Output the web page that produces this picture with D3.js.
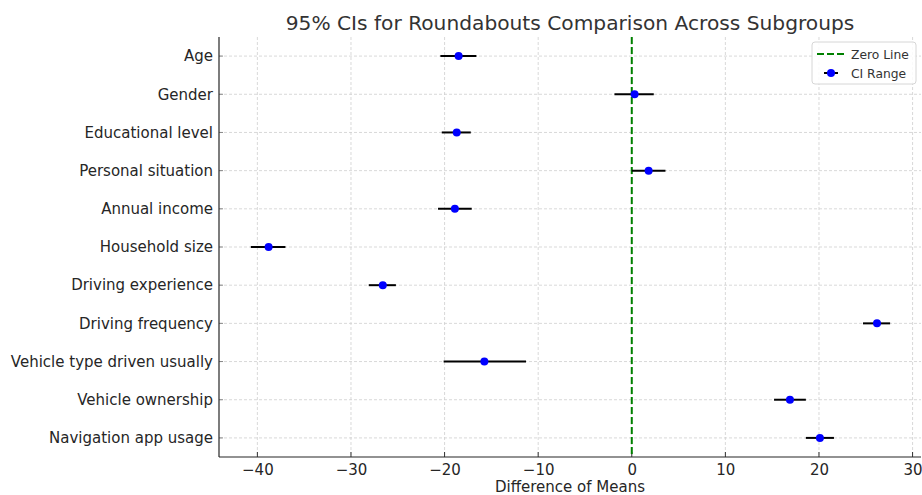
<!DOCTYPE html>
<html><head><meta charset="utf-8">
<script src="https://cdn.jsdelivr.net/npm/d3@7"></script>
<style>body{margin:0;background:#fff}svg{display:block;font-family:"DejaVu Sans",sans-serif}</style>
</head><body><svg id="c" width="922" height="495"></svg>
<script>
const categories = ["Age","Gender","Educational level","Personal situation","Annual income","Household size","Driving experience","Driving frequency","Vehicle type driven usually","Vehicle ownership","Navigation app usage"];
const means = [-18.5, 0.3, -18.7, 1.8, -18.9, -38.8, -26.6, 26.2, -15.75, 16.9, 20.1];
const lower = [-20.45, -1.85, -20.3, 0.0, -20.7, -40.7, -28.1, 24.7, -20.1, 15.2, 18.6];
const upper = [-16.6, 2.35, -17.2, 3.6, -17.1, -37.0, -25.2, 27.6, -11.3, 18.6, 21.6];
const xTicks = [-40, -30, -20, -10, 0, 10, 20, 30];

const svg = d3.select("#c");
const L = 219, R = 921, T = 37, B = 457;
const x = d3.scaleLinear().domain([-44.1, 30.9]).range([L, R]);
const y = d3.scalePoint().domain(categories).range([T, B]).padding(0.5);

// grid
svg.append("g").selectAll("line").data(xTicks).join("line")
  .attr("x1", d => x(d)).attr("x2", d => x(d)).attr("y1", T).attr("y2", B)
  .attr("stroke", "#cfcfcf").attr("stroke-width", 0.8).attr("stroke-dasharray", "3,2");
svg.append("g").selectAll("line").data(categories).join("line")
  .attr("x1", L).attr("x2", R).attr("y1", d => y(d)).attr("y2", d => y(d))
  .attr("stroke", "#cfcfcf").attr("stroke-width", 0.8).attr("stroke-dasharray", "3,2");

// axes
const xAxis = svg.append("g").attr("transform", `translate(0,${B})`)
  .call(d3.axisBottom(x).tickValues(xTicks).tickSize(0).tickPadding(7).tickFormat(d => d < 0 ? "\u2212" + Math.abs(d) : d));
xAxis.select(".domain").remove();
xAxis.selectAll("text").attr("font-size", 15).attr("fill", "#262626").attr("font-family", "DejaVu Sans");
svg.append("g").selectAll("line").data(xTicks).join("line")
  .attr("x1", d => x(d)).attr("x2", d => x(d)).attr("y1", B).attr("y2", B - 5)
  .attr("stroke", "#333").attr("stroke-width", 1);

const yAxis = svg.append("g").attr("transform", `translate(${L},0)`)
  .call(d3.axisLeft(y).tickSize(0).tickPadding(6));
yAxis.select(".domain").remove();
yAxis.selectAll("text").attr("font-size", 15).attr("fill", "#262626").attr("font-family", "DejaVu Sans");
svg.append("g").selectAll("line").data(categories).join("line")
  .attr("x1", L).attr("x2", L + 4).attr("y1", d => y(d)).attr("y2", d => y(d))
  .attr("stroke", "#888").attr("stroke-width", 1);

// spines
svg.append("line").attr("x1", L).attr("x2", L).attr("y1", T).attr("y2", B).attr("stroke", "#262626").attr("stroke-width", 1.2);
svg.append("line").attr("x1", L).attr("x2", R).attr("y1", B).attr("y2", B).attr("stroke", "#262626").attr("stroke-width", 1.2);

// zero line
svg.append("line").attr("x1", x(0)).attr("x2", x(0)).attr("y1", T).attr("y2", B)
  .attr("stroke", "#008000").attr("stroke-width", 2).attr("stroke-dasharray", "7,3");

// error bars
const rows = categories.map((c, i) => ({c, m: means[i], lo: lower[i], hi: upper[i]}));
svg.append("g").selectAll("line").data(rows).join("line")
  .attr("x1", d => x(d.lo)).attr("x2", d => x(d.hi)).attr("y1", d => y(d.c)).attr("y2", d => y(d.c))
  .attr("stroke", "#000").attr("stroke-width", 2);
svg.append("g").selectAll("circle").data(rows).join("circle")
  .attr("cx", d => x(d.m)).attr("cy", d => y(d.c)).attr("r", 4).attr("fill", "#0000ff");

// title & label
svg.append("text").attr("x", (L + R) / 2).attr("y", 30).attr("text-anchor", "middle")
  .attr("font-size", 20.2).attr("fill", "#333").text("95% CIs for Roundabouts Comparison Across Subgroups");
svg.append("text").attr("x", (L + R) / 2).attr("y", 492).attr("text-anchor", "middle")
  .attr("font-size", 15).attr("fill", "#262626").text("Difference of Means");

// legend
const lg = svg.append("g").attr("transform", "translate(812,42)");
lg.append("rect").attr("width", 104).attr("height", 42).attr("rx", 3)
  .attr("fill", "#fff").attr("fill-opacity", 0.85).attr("stroke", "#d6d6d6").attr("stroke-width", 1);
lg.append("line").attr("x1", 5).attr("x2", 33).attr("y1", 12).attr("y2", 12)
  .attr("stroke", "#008000").attr("stroke-width", 2).attr("stroke-dasharray", "7,3");
lg.append("text").attr("x", 39).attr("y", 16.5).attr("font-size", 12.3).attr("fill", "#333").text("Zero Line");
lg.append("line").attr("x1", 12).attr("x2", 26).attr("y1", 31).attr("y2", 31).attr("stroke", "#000").attr("stroke-width", 2);
lg.append("circle").attr("cx", 19).attr("cy", 31).attr("r", 4).attr("fill", "#0000ff");
lg.append("text").attr("x", 39).attr("y", 35.5).attr("font-size", 12.3).attr("fill", "#333").text("CI Range");
</script></body></html>
